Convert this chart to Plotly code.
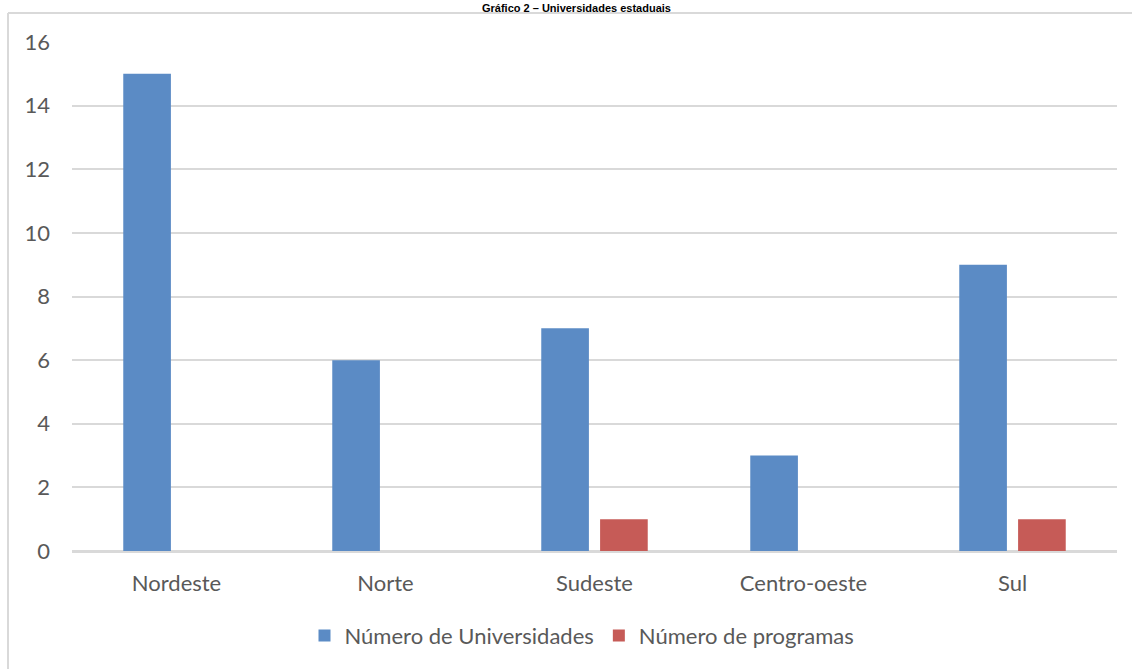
import plotly.graph_objects as go

# Regional counts of state universities and of their programmes
regioes = ["Nordeste", "Norte", "Sudeste", "Centro-oeste", "Sul"]
universidades = [15, 6, 7, 3, 9]
programas = [0, 0, 1, 0, 1]
y_ticks = [0, 2, 4, 6, 8, 10, 12, 14, 16]

W, H = 1132, 669
L, R, T, B = 72, 15, 42, 116
plot_w = W - L - R
plot_h = H - T - B

def px_x(px):
    return (px - L) / plot_w

def px_y(py):
    return (H - B - py) / plot_h

FONT = "Lato"
GREY = "#595959"
GRID = "#d9d9d9"
FS = 22

fig = go.Figure()
fig.add_trace(go.Bar(
    x=regioes, y=universidades, name="Número de Universidades",
    marker=dict(color="#5b8bc5", line=dict(width=0)),
))
fig.add_trace(go.Bar(
    x=regioes, y=programas, name="Número de programas",
    marker=dict(color="#c65b57", line=dict(width=0)),
))

fig.update_layout(
    width=W, height=H,
    margin=dict(l=L, r=R, t=T, b=B, pad=0),
    paper_bgcolor="white", plot_bgcolor="white",
    barmode="group", bargap=0.437, bargroupgap=0.19,
    font=dict(family=FONT, size=FS, color=GREY),
    showlegend=True,
    legend=dict(
        orientation="h", x=px_x(582), xanchor="center",
        y=px_y(638), yanchor="middle",
        font=dict(family=FONT, size=FS, color=GREY),
        itemsizing="constant", traceorder="normal",
    ),
    xaxis=dict(
        showgrid=False, showline=True, linecolor=GRID, linewidth=1.5,
        ticks="", ticklabelstandoff=12,
        tickfont=dict(family=FONT, size=FS, color=GREY),
    ),
    yaxis=dict(
        range=[0, 16], tickvals=y_ticks,
        showgrid=True, gridcolor=GRID, gridwidth=1.5,
        zeroline=True, zerolinecolor=GRID, zerolinewidth=1.5,
        showline=False, ticks="", ticklabelstandoff=21,
        tickfont=dict(family=FONT, size=FS, color=GREY),
    ),
)

# Chart frame (left and top edges)
fx = px_x(8)
fy_top = px_y(13)
fig.add_shape(type="line", xref="paper", yref="paper",
              x0=fx, x1=fx, y0=px_y(H + 5), y1=fy_top,
              line=dict(color=GRID, width=2))
fig.add_shape(type="line", xref="paper", yref="paper",
              x0=fx, x1=px_x(W + 5), y0=fy_top, y1=fy_top,
              line=dict(color=GRID, width=2))

# Chart title, in the band above the frame
fig.add_annotation(
    text="<b>Gráfico 2 – Universidades estaduais</b>",
    xref="paper", yref="paper", x=px_x(576), y=px_y(0),
    xanchor="center", yanchor="top", showarrow=False,
    font=dict(family="Liberation Sans", size=11, color="#000000"),
)

fig.write_html("out.html")
